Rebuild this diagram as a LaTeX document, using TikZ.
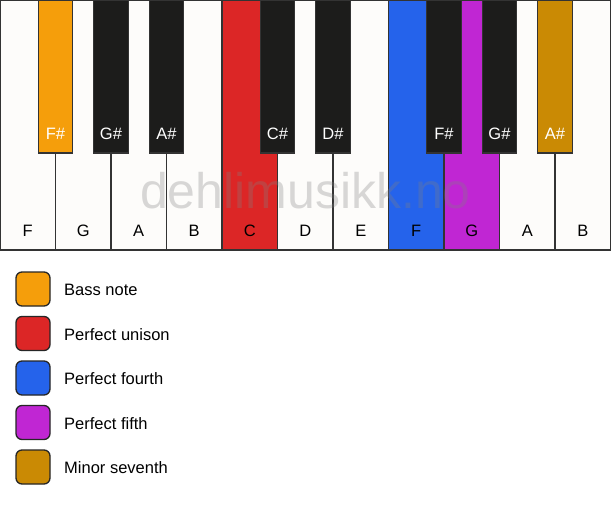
\documentclass[tikz,border=0pt]{standalone}
\usepackage{fontspec}
\setmainfont{Liberation Sans}
\definecolor{ivory}{HTML}{FDFCFA}
\definecolor{keyblack}{HTML}{1C1C1B}
\definecolor{edge}{HTML}{333333}
\definecolor{cbass}{HTML}{F59E0B}
\definecolor{cunison}{HTML}{DC2626}
\definecolor{cfourth}{HTML}{2563EB}
\definecolor{cfifth}{HTML}{C026D3}
\definecolor{cseventh}{HTML}{CA8A04}
\begin{document}
\begin{tikzpicture}[x=1pt,y=-1pt,
  whitekey/.style={draw=edge,line width=1.5pt,fill=ivory},
  blackkey/.style={draw=edge,line width=1.2pt,fill=keyblack},
  keylabel/.style={anchor=base,inner sep=0pt,font=\fontsize{16.5}{19}\selectfont},
  legbox/.style={draw=black!85,line width=1.3pt,rounded corners=6pt,minimum width=34pt,minimum height=34pt,inner sep=0pt},
  legtext/.style={anchor=base west,inner sep=0pt,font=\fontsize{16.5}{19}\selectfont}]
\useasboundingbox (0,0) rectangle (611,506);
\fill[white] (0,0) rectangle (611,506);
% white keys
\foreach \i/\n/\c/\t in {0/F/ivory/black,1/G/ivory/black,2/A/ivory/black,3/B/ivory/black,4/C/cunison/black,5/D/ivory/black,6/E/ivory/black,7/F/cfourth/black,8/G/cfifth/black,9/A/ivory/black,10/B/ivory/black}{
  \draw[whitekey,fill=\c] ({\i*55.5},0) rectangle ({(\i+1)*55.5},250);
  \node[keylabel,text=\t] (w\i) at ({(\i+0.5)*55.5},236) {\n};
}
% black keys
\foreach \k/\n/\c/\t in {1/F\#/cbass/white,2/G\#/keyblack/white,3/A\#/keyblack/white,5/C\#/keyblack/white,6/D\#/keyblack/white,8/F\#/keyblack/white,9/G\#/keyblack/white,10/A\#/cseventh/white}{
  \draw[blackkey,fill=\c] ({\k*55.5-17.25},0) rectangle ({\k*55.5+17.25},153);
  \node[keylabel,text=\t] (b\k) at ({\k*55.5},139) {\n};
}
% watermark
\node[anchor=base,inner sep=0pt,text=gray,text opacity=0.3,font=\fontsize{50}{54}\selectfont] (wm) at (305.5,208.5) {dehlimusikk.no};
% legend
\foreach \j/\c/\t in {0/cbass/Bass note,1/cunison/Perfect unison,2/cfourth/Perfect fourth,3/cfifth/Perfect fifth,4/cseventh/Minor seventh}{
  \node[legbox,fill=\c] (lb\j) at (33,{289+\j*44.5}) {};
  \node[legtext] (lt\j) at (64,{289+\j*44.5+6.8}) {\t};
}
\end{tikzpicture}
\end{document}
